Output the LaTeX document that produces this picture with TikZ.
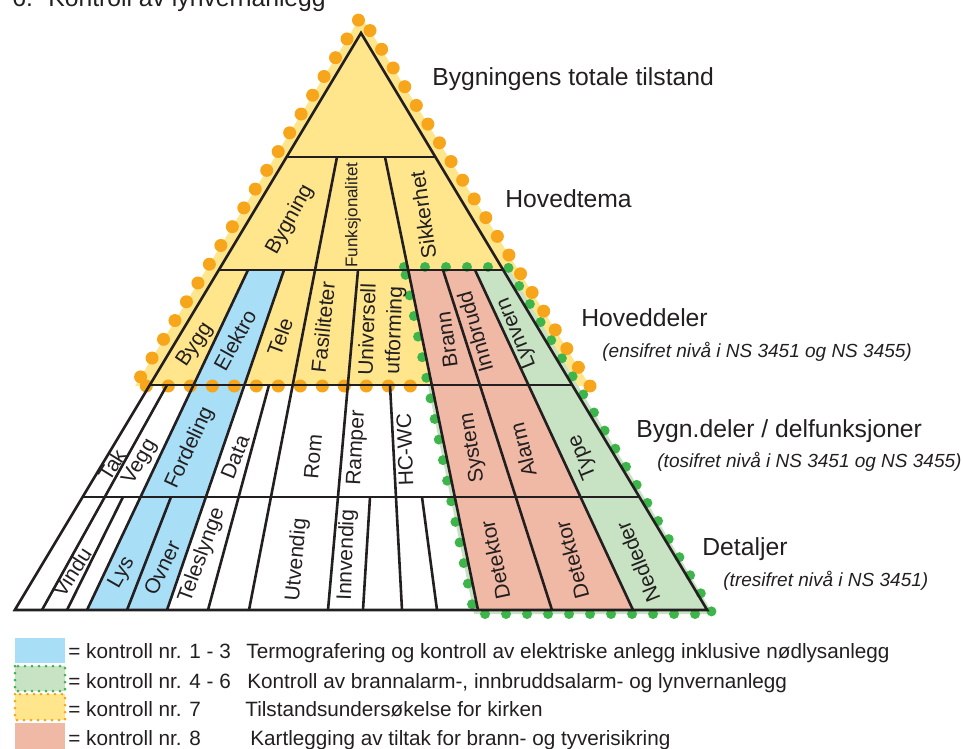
\documentclass[tikz,border=0pt]{standalone}
\usepackage{fontspec}
\setmainfont{Liberation Sans}

\definecolor{kirkegul}{RGB}{255,230,140}
\definecolor{prikkoransje}{RGB}{247,166,27}
\definecolor{elblaa}{RGB}{169,222,247}
\definecolor{brannrosa}{RGB}{240,185,165}
\definecolor{lyngronn}{RGB}{200,226,196}
\definecolor{prikkgronn}{RGB}{61,181,74}
\definecolor{tekstgraa}{RGB}{35,31,32}

\tikzset{
    celle/.style={inner sep=0pt, text=tekstgraa, font=\fontsize{10.5}{13.3}\selectfont},
    overskrift/.style={anchor=base west, inner sep=0pt, text=tekstgraa, font=\fontsize{12.35}{14}\selectfont},
    undertekst/.style={anchor=base west, inner sep=0pt, text=tekstgraa, font=\fontsize{9.5}{11}\selectfont\itshape},
    legende/.style={anchor=base west, inner sep=0pt, text=tekstgraa, font=\fontsize{10.35}{12}\selectfont},
    strek/.style={draw=tekstgraa, line width=1.3pt},
    oransjeprikker/.style={draw=prikkoransje, line width=6.5pt, line cap=round, dash pattern=on 0pt off 11pt},
    gronneprikker/.style={draw=prikkgronn, line width=5pt, line cap=round, dash pattern=on 0pt off 10.5pt},
    smaaoransje/.style={draw=prikkoransje, line width=1.5pt, line cap=round, dash pattern=on 0pt off 3.5pt},
    smaagronn/.style={draw=prikkgronn, line width=1.5pt, line cap=round, dash pattern=on 0pt off 3.5pt}
}

\begin{document}
\begin{tikzpicture}[x=0.5pt, y=-0.5pt]
                \useasboundingbox (0,0) rectangle (963,749);

                \fill[kirkegul] (361,16) -- (135,386) -- (590,386) -- cycle;
                \fill[lyngronn] (404,267) -- (508,267) -- (713,614) -- (474,614) -- cycle;

                \fill[kirkegul] (361,33) -- (149.8,385) -- (572.2,385) -- cycle;
                \fill[elblaa] (248,270) -- (284,270) -- (167,610) -- (87,610) -- cycle;
                \fill[brannrosa] (408.2,270) -- (475,270) -- (633,610) -- (478,610) -- cycle;
                \fill[lyngronn] (475,270) -- (503.2,270) -- (707.2,610) -- (633,610) -- cycle;

                \draw[oransjeprikker] (590,386) -- (361,16) -- (135,386) -- (430,386);
                \draw[gronneprikker] (404,267) -- (508,267) -- (713,614) -- (474,614) -- cycle;

                \draw[strek] (361,33) -- (14.8,610) -- (707.2,610) -- cycle;
                \draw[strek] (286.6,157) -- (435.4,157);
                \draw[strek] (218.8,270) -- (503.2,270);
                \draw[strek] (149.8,385) -- (572.2,385);
                \draw[strek] (82.6,497) -- (639.4,497);

                \draw[strek] (337,157) -- (249,610);
                \draw[strek] (385,157) -- (478,610);
                \draw[strek] (248,270) -- (87,610);
                \draw[strek] (284,270) -- (167,610);
                \draw[strek] (358,270) -- (328,610);
                \draw[strek] (443,270) -- (552,610);
                \draw[strek] (475,270) -- (633,610);
                \draw[strek] (167,385) -- (42,610);
                \draw[strek] (269,385) -- (208,610);
                \draw[strek] (390,385) -- (402,610);
                \draw[strek] (123,497) -- (67,610);
                \draw[strek] (171,497) -- (127,610);
                \draw[strek] (370,497) -- (363,610);
                \draw[strek] (422,497) -- (437,610);

                \node[celle, rotate=61] (bygning) at (290,220) {Bygning};
                \node[celle, rotate=90, font=\fontsize{8.5}{10}\selectfont] (funksjon) at (353,215) {Funksjonalitet};
                \node[celle, rotate=98] (sikkerhet) at (423,215) {Sikkerhet};

                \node[celle, rotate=56] (bygg) at (195,345) {Bygg};
                \node[celle, rotate=61] (elektro) at (235,340) {Elektro};
                \node[celle, rotate=70] (tele) at (280,337) {Tele};
                \node[celle, rotate=84] (fasiliteter) at (323,327) {Fasiliteter};
                \node[celle, rotate=88, align=center] (universell) at (382,330) {Universell\\utforming};
                \node[celle, rotate=98] (brann) at (447,340) {Brann};
                \node[celle, rotate=106] (innbrudd) at (475,332) {Innbrudd};
                \node[celle, rotate=112] (lynvern) at (517,333) {Lynvern};

                \node[celle, rotate=58] (tak) at (112,465) {Tak};
                \node[celle, rotate=60] (vegg) at (140,462) {Vegg};
                \node[celle, rotate=65] (fordeling) at (190,448) {Fordeling};
                \node[celle, rotate=68] (data) at (235,457) {Data};
                \node[celle, rotate=85] (rom) at (313,457) {Rom};
                \node[celle, rotate=87] (ramper) at (357,448) {Ramper};
                \node[celle, rotate=92] (hcwc) at (405,450) {HC-WC};
                \node[celle, rotate=99] (system) at (473,448) {System};
                \node[celle, rotate=104] (alarm) at (523,450) {Alarm};
                \node[celle, rotate=112] (type) at (583,457) {Type};

                \node[celle, rotate=57] (vindu) at (72,572) {Vindu};
                \node[celle, rotate=60] (lys) at (122,573) {Lys};
                \node[celle, rotate=64] (ovner) at (162,568) {Ovner};
                \node[celle, rotate=70] (teleslynge) at (202,555) {Teleslynge};
                \node[celle, rotate=85] (utvendig) at (297,560) {Utvendig};
                \node[celle, rotate=88] (innvendig) at (347,555) {Innvendig};
                \node[celle, rotate=102] (detektor1) at (495,560) {Detektor};
                \node[celle, rotate=105] (detektor2) at (572,560) {Detektor};
                \node[celle, rotate=112] (nedleder) at (638,562) {Nedleder};

                \node[overskrift] (tittel) at (12,7) {6.\hspace{7.7pt}Kontroll av lynvernanlegg};
                \node[overskrift] (tilstand) at (432,86) {Bygningens totale tilstand};
                \node[overskrift] (hovedtema) at (505,207) {Hovedtema};
                \node[overskrift] (hoveddeler) at (581,326) {Hoveddeler};
                \node[undertekst] (ensifret) at (602,357) {(ensifret nivå i NS 3451 og NS 3455)};
                \node[overskrift] (bygndeler) at (636,437) {Bygn.deler / delfunksjoner};
                \node[undertekst] (tosifret) at (657,467) {(tosifret nivå i NS 3451 og NS 3455)};
                \node[overskrift] (detaljer) at (702,555) {Detaljer};
                \node[undertekst] (tresifret) at (723,586) {(tresifret nivå i NS 3451)};

                \fill[elblaa] (15,638) rectangle (65,663);
                \fill[lyngronn] (15,666) rectangle (65,691);
                \draw[smaagronn] (15,666) rectangle (65,691);
                \fill[kirkegul] (15,694) rectangle (65,720);
                \draw[smaaoransje] (15,694) rectangle (65,720);
                \fill[brannrosa] (15,723) rectangle (65,749);

                \node[legende] (nr13) at (68,658) {= kontroll nr. 1 - 3};
                \node[legende] (termo) at (246,658) {Termografering og kontroll av elektriske anlegg inklusive nødlysanlegg};
                \node[legende] (nr46) at (68,688) {= kontroll nr. 4 - 6};
                \node[legende] (brannalarm) at (247,688) {Kontroll av brannalarm-, innbruddsalarm- og lynvernanlegg};
                \node[legende] (nr7) at (68,716) {= kontroll nr. 7};
                \node[legende] (kirken) at (245,716) {Tilstandsundersøkelse for kirken};
                \node[legende] (nr8) at (68,745) {= kontroll nr. 8};
                \node[legende] (tyveri) at (250,745) {Kartlegging av tiltak for brann- og tyverisikring};
            \end{tikzpicture}
\end{document}
